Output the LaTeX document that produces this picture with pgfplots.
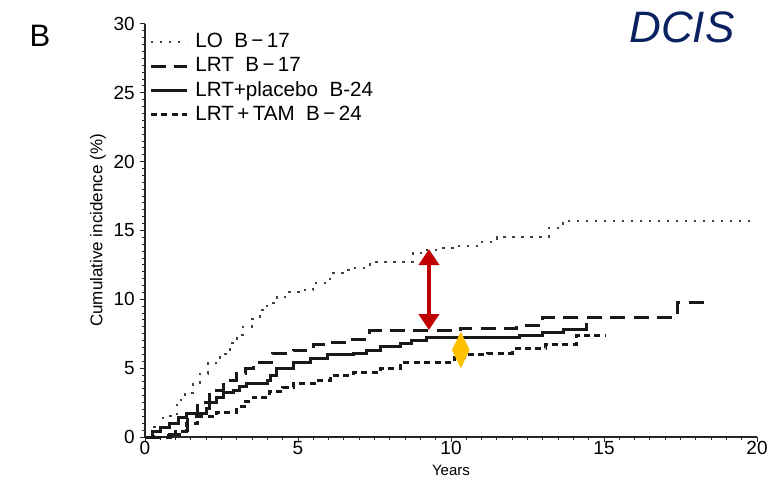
\documentclass[border=0pt]{standalone}
\usepackage{fontspec}
\setmainfont{Liberation Sans}
\usepackage{pgfplots}
\pgfplotsset{compat=1.18}
\usetikzlibrary{arrows.meta}
\definecolor{arrowred}{HTML}{C00000}
\definecolor{diamondorange}{HTML}{FFC000}
\definecolor{dcisblue}{HTML}{0A2260}
\begin{document}
\begin{tikzpicture}
\useasboundingbox (-72.5pt,-19.5pt) rectangle (317pt,218.5pt);
\begin{axis}[
  at={(0,0)}, anchor=south west,
  scale only axis, width=306pt, height=206.5pt,
  xmin=0, xmax=20, ymin=0, ymax=30,
  axis lines=left, axis line style={-, line width=0.7pt, black!85},
  xtick={0,5,10,15,20}, ytick={0,5,10,15,20,25,30},
  minor x tick num=9, minor y tick num=9,
  tick align=outside,
  major tick length=2.6pt, minor tick length=1.4pt,
  every tick/.style={black!85, line width=0.5pt},
  /pgf/number format/assume math mode=true,
  tick label style={font=\fontsize{9.5}{11}\selectfont},
  xticklabel style={yshift=1.6pt, inner sep=1pt},
  yticklabel style={xshift=1pt},
  ylabel={Cumulative incidence (\%)},
  ylabel style={font=\fontsize{8.5}{10}\selectfont, yshift=-3pt},
  xlabel={Years},
  xlabel style={font=\fontsize{7.5}{8}\selectfont, inner sep=0pt, at={(axis description cs:0.5,0)}, anchor=base, yshift=-19.2pt},
  legend style={at={(0.0065,0.9826)}, anchor=north west, draw=none, fill=none,
    font=\fontsize{10.3}{11}\selectfont, row sep=1.4pt, column sep=2pt, inner sep=0pt,
    nodes={inner xsep=1.5pt, inner ysep=0.6pt, text height=7.5pt, text depth=2pt, anchor=west}},
  legend cell align=left,
  legend image code/.code={\draw[#1] (0pt,0pt) -- (18pt,0pt);},
  clip=false,
]
\addplot[const plot, black!75, line width=1pt, dash pattern=on 1.3pt off 3.2pt] coordinates {
(0,0) (0.3,0.7) (0.6,1.5) (1.05,2.7) (1.3,3.2) (1.57,3.9) (1.8,4.6) (2.06,5.4)
(2.45,6.0) (2.78,6.8) (3.0,7.4) (3.2,8.0) (3.5,8.6) (3.76,9.2) (4.0,9.7) (4.3,10.2)
(4.7,10.5) (5.07,10.7) (5.5,11.2) (6.05,11.9) (6.5,12.1) (6.8,12.3) (7.35,12.7)
(8.76,13.4) (9.2,13.6) (9.64,13.7) (10.2,13.9) (10.95,14.2) (11.5,14.5) (13.2,15.2)
(13.66,15.7) (19.85,15.7)};
\addlegendentry{LO\ \ B\,−\,17}
\addplot[const plot, black!90, line width=1.5pt, dash pattern=on 7.5pt off 4.2pt] coordinates {
(0,0) (0.5,0.1) (0.8,0.2) (1.14,0.5) (1.4,1.5) (1.7,2.5) (2.12,3.4) (2.55,4.1)
(3.0,4.6) (3.3,5.0) (3.53,5.4) (4.18,6.1) (4.84,6.3) (5.5,6.7) (5.95,6.9) (6.7,7.1)
(7.35,7.7) (10.3,7.9) (12.15,8.1) (13.0,8.7) (17.4,9.8) (18.5,9.8)};
\addlegendentry{LRT\ \ B\,−\,17}
\addplot[const plot, black!90, line width=1.5pt] coordinates {
(0,0) (0.26,0.4) (0.5,0.7) (0.8,1.0) (1.1,1.4) (1.37,1.7) (2.0,2.1) (2.12,2.5)
(2.35,2.9) (2.55,3.2) (2.88,3.4) (3.1,3.7) (3.33,3.9) (3.99,4.1) (4.1,4.5) (4.3,5.0)
(4.84,5.4) (5.4,5.7) (5.95,6.0) (6.8,6.1) (7.25,6.3) (7.7,6.6) (8.35,6.8) (8.7,7.0)
(9.2,7.2) (12.25,7.4) (13.0,7.6) (13.66,7.8) (14.44,8.3)};
\addlegendentry{LRT+placebo\ \ B-24}
\addplot[const plot, black!90, line width=1.5pt, dash pattern=on 3pt off 2.2pt] coordinates {
(0,0) (0.6,0.0) (1.0,0.4) (1.37,1.0) (1.7,1.5) (2.35,1.8) (3.0,2.2) (3.3,2.6)
(3.53,2.9) (4.08,3.3) (4.5,3.6) (4.84,3.9) (5.6,4.1) (6.05,4.5) (6.8,4.7) (7.7,5.0)
(8.35,5.4) (10.1,5.8) (10.6,6.0) (11.2,6.1) (12.0,6.4) (13.1,6.7) (14.1,7.4) (15.05,7.4)};
\addlegendentry{LRT\,+\,TAM\ \ B\,−\,24}
\draw[arrowred, line width=2.4pt, {Triangle[width=10pt,length=8pt]}-{Triangle[width=10pt,length=8pt]}]
  (axis cs:9.28,7.77) -- (axis cs:9.28,13.65);
\fill[diamondorange] (axis cs:10.32,7.65) -- (axis cs:10.61,6.32) -- (axis cs:10.32,4.99) -- (axis cs:10.03,6.32) -- cycle;
\end{axis}
\node[font=\fontsize{15.5}{17}\selectfont] at (-52.5pt,200.5pt) {B};
\node[font=\fontsize{22}{26}\selectfont\itshape, text=dcisblue] at (268.5pt,205pt) {DCIS};
\end{tikzpicture}
\end{document}
